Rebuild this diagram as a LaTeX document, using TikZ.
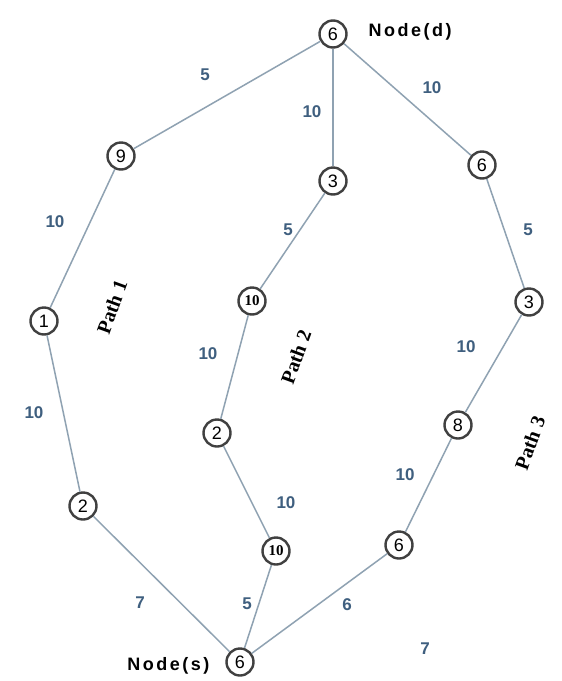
\documentclass[tikz,border=0pt]{standalone}
\usepackage{fontspec}
\setmainfont{Liberation Serif}
\newfontfamily\arial{Liberation Sans}
\newfontfamily\arialsp[LetterSpace=14]{Liberation Sans}
\begin{document}
\begin{tikzpicture}[x=1pt,y=-1pt,
  vtx/.style={circle,draw=black!75,line width=2.4pt,minimum size=27pt,inner sep=0pt,
    font=\arial\fontsize{18}{18}\selectfont},
  vtxb/.style={vtx,font=\bfseries\fontsize{15}{15}\selectfont},
  edge/.style={draw=edgec,line width=1.5pt},
  wt/.style={text=wtc,font=\arial\bfseries\fontsize{17}{17}\selectfont},
  pathlbl/.style={font=\bfseries\fontsize{20}{20}\selectfont,rotate=70},
  nlbl/.style={font=\arialsp\bfseries\fontsize{18}{18}\selectfont}]
\definecolor{edgec}{HTML}{8FA2B2}
\definecolor{wtc}{HTML}{3F5F7F}
\useasboundingbox[fill=white] (0,0) rectangle (562,681);
% nodes
\node[vtx] (d) at (333,34) {6};
\node[vtx] (n9) at (121,156) {9};
\node[vtx] (a3) at (333,181) {3};
\node[vtx] (c6) at (482,165) {6};
\node[vtx] (n1) at (44,321) {1};
\node[vtxb] (a10) at (252,301) {10};
\node[vtx] (c3) at (529,302) {3};
\node[vtx] (a2) at (217,433) {2};
\node[vtx] (c8) at (458,425) {8};
\node[vtx] (b2) at (83,506) {2};
\node[vtxb] (b10) at (276,551) {10};
\node[vtx] (c6b) at (399,545) {6};
\node[vtx] (s) at (240,662) {6};
% edges
\draw[edge] (d) -- (n9);
\draw[edge] (n9) -- (n1);
\draw[edge] (n1) -- (b2);
\draw[edge] (b2) -- (s);
\draw[edge] (d) -- (a3);
\draw[edge] (a3) -- (a10);
\draw[edge] (a10) -- (a2);
\draw[edge] (a2) -- (b10);
\draw[edge] (b10) -- (s);
\draw[edge] (d) -- (c6);
\draw[edge] (c6) -- (c3);
\draw[edge] (c3) -- (c8);
\draw[edge] (c8) -- (c6b);
\draw[edge] (c6b) -- (s);
% weights
\node[wt] (w1) at (205,75) {5};
\node[wt] (w2) at (55,222) {10};
\node[wt] (w3) at (34,413) {10};
\node[wt] (w4) at (140,603) {7};
\node[wt] (w5) at (312,112) {10};
\node[wt] (w6) at (288,230) {5};
\node[wt] (w7) at (208,354) {10};
\node[wt] (w8) at (286,503) {10};
\node[wt] (w9) at (247,604) {5};
\node[wt] (w10) at (432,88) {10};
\node[wt] (w11) at (528,230) {5};
\node[wt] (w12) at (466,347) {10};
\node[wt] (w13) at (405,475) {10};
\node[wt] (w14) at (347,605) {6};
\node[wt] (w15) at (425,649) {7};
% path labels
\node[pathlbl] (p1) at (112,307) {Path 1};
\node[pathlbl] (p2) at (296,357) {Path 2};
\node[pathlbl] (p3) at (530,443) {Path 3};
% node labels
\node[nlbl,anchor=west] (ld) at (365,32) {Node(d)};
\node[nlbl,anchor=east] (ls) at (213,666) {Node(s)};
\end{tikzpicture}
\end{document}
